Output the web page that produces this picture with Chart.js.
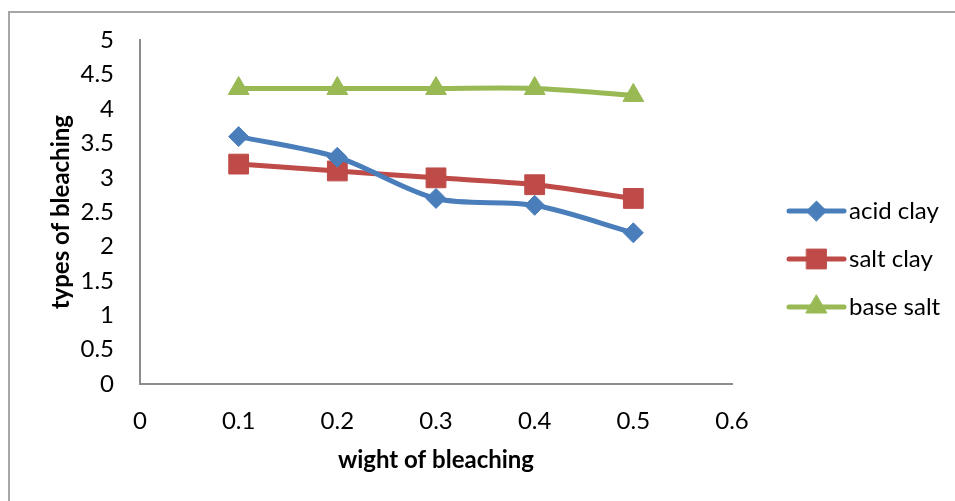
<!DOCTYPE html>
<html>
<head>
<meta charset="utf-8">
<script src="https://cdn.jsdelivr.net/npm/chart.js@4/dist/chart.umd.min.js"></script>
<style>
  html, body { margin: 0; padding: 0; background: #fff; overflow: hidden; }
  #wrap { position: relative; width: 955px; height: 501px; }
  #frame { position: absolute; left: 8px; top: 11px; width: 1000px; height: 600px; border: 2px solid #a6a6a6; box-sizing: border-box; }
  canvas { position: absolute; left: 0; top: 0; }
</style>
</head>
<body>
<div id="wrap">
  <div id="frame"></div>
  <canvas id="chart" width="955" height="501"></canvas>
</div>
<script>
// weight of bleaching agent
const weights = [0.1, 0.2, 0.3, 0.4, 0.5]
const acidClay = [3.6, 3.3, 2.7, 2.6, 2.2]
const saltClay = [3.2, 3.1, 3.0, 2.9, 2.7]
const baseSalt = [4.3, 4.3, 4.3, 4.3, 4.2]
const seriesNames = ["acid clay", "salt clay", "base salt"]

const FONT = "Lato, 'Open Sans', sans-serif"
const SIZE = 24

function toPoints(values) {
  return weights.map((w, i) => ({ x: w, y: values[i] }))
}

function makeSet(label, values, color, style, radius) {
  return {
    label: label,
    data: toPoints(values),
    borderColor: color,
    backgroundColor: color,
    borderWidth: 5,
    tension: 0.3,
    pointStyle: style,
    pointRadius: radius,
    pointHoverRadius: radius,
    pointBorderWidth: 1,
  }
}

// trims "5.0" -> "5"
function shortNum(v) {
  return String(Math.round(v * 10) / 10)
}

// legend drawn as line + marker like an office chart
const lineLegend = {
  id: "lineLegend",
  afterDraw(chart) {
    const ctx = chart.ctx
    const x0 = 789, x1 = 844, y0 = 211, gap = 48
    chart.data.datasets.forEach((ds, i) => {
      const y = y0 + i * gap
      ctx.save()
      ctx.strokeStyle = ds.borderColor
      ctx.lineWidth = 5
      ctx.lineCap = "round"
      ctx.beginPath()
      ctx.moveTo(x0, y)
      ctx.lineTo(x1, y)
      ctx.stroke()
      ctx.fillStyle = ds.backgroundColor
      ctx.strokeStyle = ds.borderColor
      ctx.lineWidth = 1
      Chart.helpers.drawPoint(ctx, { pointStyle: ds.pointStyle, radius: ds.pointRadius, rotation: 0, borderWidth: 1 }, (x0 + x1) / 2, y)
      ctx.fillStyle = "#000"
      ctx.font = SIZE + "px " + FONT
      ctx.textBaseline = "middle"
      ctx.textAlign = "left"
      ctx.fillText(ds.label, x1 + 5, y)
      ctx.restore()
    })
  },
}

new Chart(document.getElementById("chart"), {
  type: "line",
  data: {
    datasets: [
      makeSet(seriesNames[0], acidClay, "#4a7ebb", "rectRot", 10),
      makeSet(seriesNames[1], saltClay, "#be4b48", "rect", 14),
      makeSet(seriesNames[2], baseSalt, "#98b954", "triangle", 12),
    ],
  },
  options: {
    responsive: false,
    animation: false,
    layout: { padding: { left: 0, top: 40, right: 223, bottom: 0 } },
    plugins: {
      legend: { display: false },
      tooltip: { enabled: false },
    },
    scales: {
      x: {
        type: "linear",
        min: 0,
        max: 0.6,
        ticks: { stepSize: 0.1, color: "#000", padding: 23, callback: shortNum, font: { family: FONT, size: SIZE } },
        grid: { display: false, drawTicks: false },
        border: { color: "#8c8c8c", width: 2 },
        title: { display: true, text: "wight of bleaching", color: "#000", padding: { top: 0, bottom: 26 }, font: { family: FONT, size: SIZE, weight: "bold" } },
        afterFit(scale) { scale.height = 117 },
      },
      y: {
        min: 0,
        max: 5,
        ticks: { stepSize: 0.5, color: "#000", padding: 26, callback: shortNum, font: { family: FONT, size: SIZE } },
        grid: { display: false, drawTicks: false },
        border: { color: "#8c8c8c", width: 2 },
        title: { display: true, text: "types of bleaching", color: "#000", padding: { top: 47, bottom: 0 }, font: { family: FONT, size: SIZE, weight: "bold" } },
        afterFit(scale) { scale.width = 140 },
      },
    },
  },
  plugins: [lineLegend],
})
</script>
</body>
</html>
